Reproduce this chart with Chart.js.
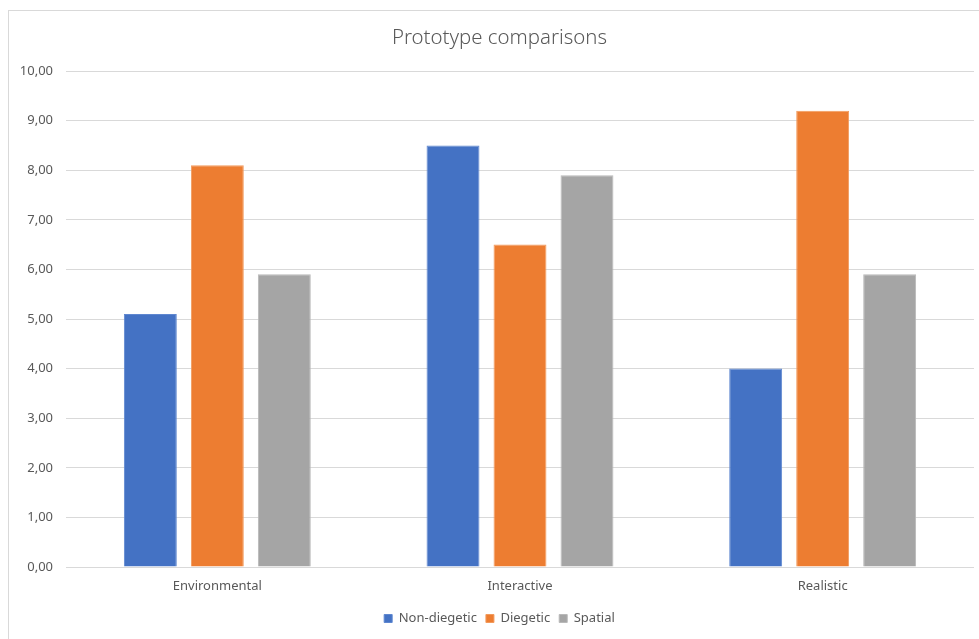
<!DOCTYPE html>
<html>
<head>
<meta charset="utf-8">
<script src="https://cdn.jsdelivr.net/npm/chart.js@4/dist/chart.umd.min.js"></script>
<style>
  html, body { margin: 0; padding: 0; background: #ffffff; overflow: hidden; }
  #frame {
    position: absolute; left: 8px; top: 10px;
    width: 983px; height: 640px;
    border: 1px solid #d9d9d9; background: #ffffff; overflow: hidden;
  }
  #chart { position: absolute; left: 0; top: 0; }
</style>
</head>
<body>
<div id="frame"><canvas id="chart" width="981" height="628"></canvas></div>
<script>
// Prototype scores per category
const categories = ['Environmental', 'Interactive', 'Realistic'];
const nonDiegetic = [5.1, 8.5, 4.0];
const diegetic = [8.1, 6.5, 9.2];
const spatial = [5.9, 7.9, 5.9];
const yTicks = [0, 1, 2, 3, 4, 5, 6, 7, 8, 9, 10];

const textColor = '#595959';
const gridColor = '#d9d9d9';
const fontFamily = "'Noto Sans', 'Open Sans', sans-serif";

function bar(label, data, fill, edge) {
  return {
    label, data,
    backgroundColor: fill,
    borderColor: edge,
    borderWidth: 1,
    categoryPercentage: 0.664,
    barPercentage: 0.79
  };
}

new Chart(document.getElementById('chart'), {
  type: 'bar',
  data: {
    labels: categories,
    datasets: [
      bar('Non-diegetic', nonDiegetic, '#4472c4', '#5f87d0'),
      bar('Diegetic', diegetic, '#ed7d31', '#f29a5c'),
      bar('Spatial', spatial, '#a5a5a5', '#b9b9b9')
    ]
  },
  options: {
    responsive: false,
    animation: false,
    layout: { padding: { left: 0, right: 0, top: 0, bottom: 4 } },
    plugins: {
      title: {
        display: true,
        text: 'Prototype comparisons',
        color: textColor,
        font: { family: fontFamily, size: 20.4, weight: '300', lineHeight: '24px' },
        padding: { top: 15, bottom: 21 }
      },
      legend: {
        position: 'bottom',
        labels: {
          color: textColor,
          font: { family: fontFamily, size: 13 },
          boxWidth: 8,
          boxHeight: 8,
          padding: 9
        }
      },
      tooltip: { enabled: false }
    },
    scales: {
      x: {
        grid: { display: false, drawTicks: false },
        border: { display: false },
        ticks: { color: textColor, font: { family: fontFamily, size: 13 }, padding: 11 },
        afterFit(scale) { scale.height = 36; }
      },
      y: {
        min: 0,
        max: 10,
        afterBuildTicks(scale) { scale.ticks = yTicks.map(v => ({ value: v })); },
        grid: { color: gridColor, lineWidth: 1, drawTicks: false },
        border: { display: false },
        ticks: {
          color: textColor,
          font: { family: fontFamily, size: 13 },
          padding: 13,
          callback: v => Number(v).toFixed(2).replace('.', ',')
        },
        afterFit(scale) { scale.width = 57; }
      },
      // empty right-hand gutter so the plot stops short of the frame edge
      gutter: {
        type: 'linear',
        position: 'right',
        display: true,
        grid: { display: false, drawTicks: false },
        border: { display: false },
        ticks: { display: false },
        afterFit(scale) { scale.width = 16; }
      }
    }
  }
});
</script>
</body>
</html>
